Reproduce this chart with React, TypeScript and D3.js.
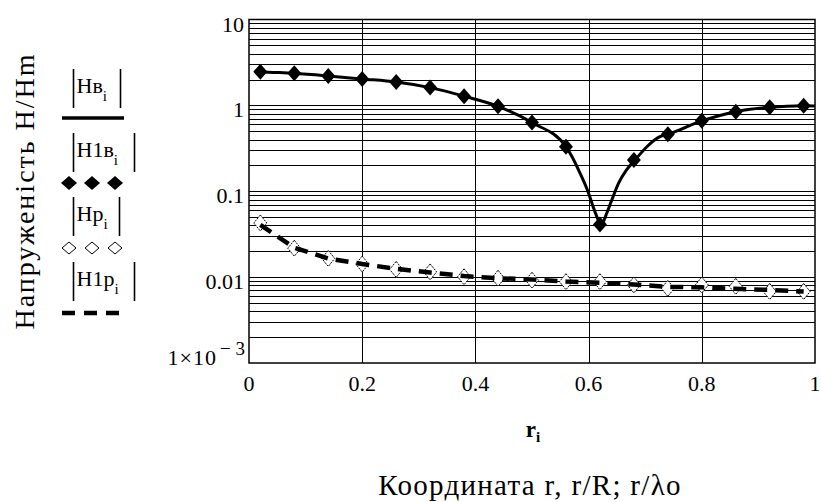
import React from 'react';
import * as d3 from 'd3';

// ---- data ----
const xTicks = [0, 0.2, 0.4, 0.6, 0.8, 1];
const xTickLabels = ['0', '0.2', '0.4', '0.6', '0.8', '1'];
const yTicks = [10, 1, 0.1, 0.01];
const yTickLabels = ['10', '1', '0.1', '0.01'];
const yMinLabel = { base: '1×10', exp: '− 3' };

const rPoints = [0.02, 0.08, 0.14, 0.2, 0.26, 0.32, 0.38, 0.44, 0.5, 0.56, 0.62, 0.68, 0.74, 0.8, 0.86, 0.92, 0.98];
const h1v = [2.47, 2.36, 2.2, 2.03, 1.87, 1.61, 1.28, 0.976, 0.63, 0.33, 0.041, 0.231, 0.46, 0.66, 0.845, 0.95, 0.99];
const hp = [0.0427, 0.0217, 0.0165, 0.0142, 0.0123, 0.0115, 0.0101, 0.0097, 0.0092, 0.00885, 0.00885, 0.0081, 0.0074, 0.0081, 0.0078, 0.0068, 0.0068];
const h1p = [0.0405, 0.022, 0.0165, 0.0142, 0.0125, 0.0113, 0.0103, 0.0097, 0.0094, 0.0089, 0.0086, 0.0082, 0.0077, 0.0076, 0.0073, 0.0071, 0.0068];

const rLine = [0.01, 0.02, 0.08, 0.14, 0.2, 0.26, 0.32, 0.38, 0.44, 0.5, 0.56, 0.585, 0.6, 0.608, 0.617, 0.622, 0.632, 0.641, 0.653, 0.667, 0.682, 0.703, 0.726, 0.74, 0.8, 0.86, 0.92, 0.98, 1.0];
const hv = [2.5, 2.47, 2.36, 2.2, 2.03, 1.87, 1.61, 1.28, 0.976, 0.63, 0.33, 0.162, 0.095, 0.066, 0.0463, 0.0405, 0.0554, 0.079, 0.124, 0.177, 0.231, 0.33, 0.432, 0.46, 0.66, 0.845, 0.95, 0.99, 0.985];

const legendNames = ['Нв', 'Н1в', 'Нр', 'Н1р'];

const W = 821;
const H = 502;
const FONT = 'Liberation Serif, serif';

const diamond = (cx: number, cy: number, hw: number, hh: number) =>
  `M${cx},${cy - hh}L${cx + hw},${cy}L${cx},${cy + hh}L${cx - hw},${cy}Z`;

export default function App() {
  const x = d3.scaleLinear().domain([0, 1]).range([249, 815]);
  const y = d3.scaleLog().domain([0.001, 10]).range([363, 19.5]);

  const gridY = y.ticks().filter((v) => v > 0.001 && v < 10);
  const gridX = xTicks.filter((v) => v > 0 && v < 1);

  const solid = d3
    .line<number>()
    .x((_, i) => x(rLine[i]))
    .y((d) => y(d))
    .curve(d3.curveMonotoneX)(hv) as string;

  const dashed = d3
    .line<number>()
    .x((_, i) => x(rPoints[i]))
    .y((d) => y(d))(h1p) as string;

  const legendTops = [69, 133, 197, 262];
  const legendRight = [120, 134, 119, 134];
  const markY = [118, 183, 248, 313];
  const markX = [69, 92, 115];
  const ts = { fontFamily: FONT };

  return (
    <svg
      width={W}
      height={H}
      style={{ position: 'absolute', left: 0, top: 0, background: '#fff', fontFamily: FONT }}
    >
      <rect x={0} y={0} width={W} height={H} fill="#fff" />
      {/* grid */}
      <g stroke="#000" strokeWidth={1} shapeRendering="crispEdges">
        {gridY.map((v, i) => (
          <line key={'gy' + i} x1={x(0)} x2={x(1)} y1={Math.round(y(v)) + 0.5} y2={Math.round(y(v)) + 0.5} />
        ))}
        {gridX.map((v, i) => (
          <line key={'gx' + i} y1={y(10)} y2={y(0.001)} x1={Math.round(x(v)) + 0.5} x2={Math.round(x(v)) + 0.5} />
        ))}
      </g>
      <rect
        x={x(0)}
        y={y(10)}
        width={x(1) - x(0)}
        height={y(0.001) - y(10)}
        fill="none"
        stroke="#000"
        strokeWidth={1.5}
      />

      {/* Hв solid line */}
      <path d={solid} fill="none" stroke="#000" strokeWidth={3} />
      {/* H1в filled diamonds */}
      {h1v.map((v, i) => (
        <path key={'fd' + i} d={diamond(x(rPoints[i]), y(v), 7, 8)} fill="#000" />
      ))}
      {/* Hр hollow diamonds */}
      {hp.map((v, i) => (
        <path
          key={'hd' + i}
          d={diamond(x(rPoints[i]), y(v), 6.5, 8)}
          fill="#fff"
          stroke="#000"
          strokeWidth={1}
          strokeDasharray="2,1"
        />
      ))}
      {/* H1р dashed line */}
      <path d={dashed} fill="none" stroke="#000" strokeWidth={4.5} strokeDasharray="13,8" />

      {/* tick labels */}
      <g fontSize={22} fill="#000" style={ts}>
        {xTicks.map((v, i) => (
          <text key={'xt' + i} x={x(v)} y={391} textAnchor="middle">
            {xTickLabels[i]}
          </text>
        ))}
        {yTicks.map((v, i) => (
          <text key={'yt' + i} x={244} y={y(v) + 12} textAnchor="end">
            {yTickLabels[i]}
          </text>
        ))}
        <text x={245} y={365} textAnchor="end">
          <tspan letterSpacing={1}>{yMinLabel.base}</tspan>
          <tspan dy={-10} fontSize={19} dx={3}>
            {yMinLabel.exp}
          </tspan>
        </text>
      </g>

      {/* axis titles */}
      <text x={533} y={437} textAnchor="middle" fontSize={23} fontWeight="bold" style={ts}>
        r
        <tspan dy={5} fontSize={15}>
          i
        </tspan>
      </text>
      <text x={530} y={495} textAnchor="middle" fontSize={29} letterSpacing={1.3} style={ts}>
        Координата r, r/R; r/λo
      </text>
      <text transform="translate(34,191) rotate(-90)" textAnchor="middle" fontSize={28} letterSpacing={2} style={ts}>
        Напруженість Н/Нm
      </text>

      {/* legend */}
      {legendNames.map((name, i) => {
        const top = legendTops[i];
        const lx = 73.5;
        const rx = legendRight[i] + 0.5;
        return (
          <g key={'lg' + i}>
            <line x1={lx} x2={lx} y1={top} y2={top + 39} stroke="#000" strokeWidth={1.6} />
            <line x1={rx} x2={rx} y1={top} y2={top + 39} stroke="#000" strokeWidth={1.6} />
            <text x={lx + 3} y={top + 24} fontSize={22} style={ts}>
              {name}
              <tspan dy={8} fontSize={15}>
                i
              </tspan>
            </text>
          </g>
        );
      })}
      <line x1={62} x2={124} y1={markY[0]} y2={markY[0]} stroke="#000" strokeWidth={3.5} />
      {markX.map((cx, i) => (
        <path key={'lf' + i} d={diamond(cx, markY[1], 8, 7)} fill="#000" />
      ))}
      {markX.map((cx, i) => (
        <path key={'lh' + i} d={diamond(cx, markY[2], 7, 6)} fill="#fff" stroke="#000" strokeWidth={1} />
      ))}
      <line x1={62} x2={124} y1={markY[3]} y2={markY[3]} stroke="#000" strokeWidth={4.5} strokeDasharray="13,9" />
    </svg>
  );
}
